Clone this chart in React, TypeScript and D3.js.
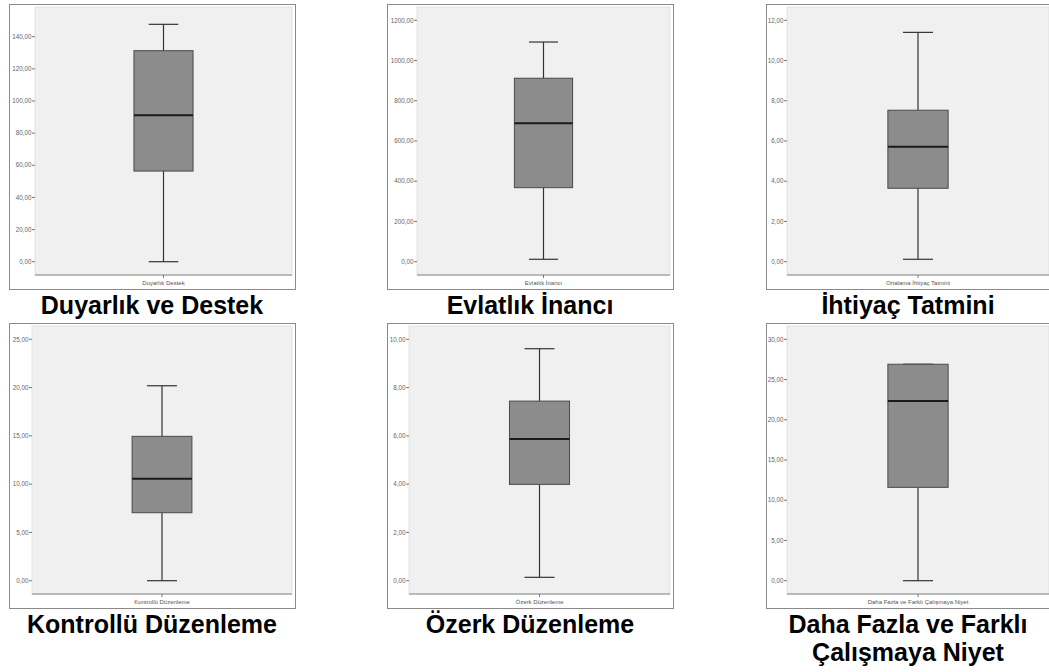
import * as d3 from "d3"

// summary stats
const titles = [
  ["Duyarlık ve Destek"],
  ["Evlatlık İnancı"],
  ["İhtiyaç Tatmini"],
  ["Kontrollü Düzenleme"],
  ["Özerk Düzenleme"],
  ["Daha Fazla ve Farklı", "Çalışmaya Niyet"],
]
const xLabels = [
  "Duyarlık Destek",
  "Evlatlık İnancı",
  "Ortalama İhtiyaç Tatmini",
  "Kontrollü Düzenleme",
  "Özerk Düzenleme",
  "Daha Fazla ve Farklı Çalışmaya Niyet",
]
const mins = [0, 12, 0.12, 0, 0.14, 0]
const q1s = [56.4, 368, 3.65, 7.04, 3.99, 11.6]
const medians = [91.1, 688, 5.72, 10.56, 5.87, 22.33]
const q3s = [131.3, 912, 7.53, 14.95, 7.44, 26.9]
const maxs = [147.7, 1092, 11.4, 20.19, 9.61, 26.9]
const axisTops = [140, 1200, 12, 25, 10, 30]
const tickValues = [
  [0, 20, 40, 60, 80, 100, 120, 140],
  [0, 200, 400, 600, 800, 1000, 1200],
  [0, 2, 4, 6, 8, 10, 12],
  [0, 5, 10, 15, 20, 25],
  [0, 2, 4, 6, 8, 10],
  [0, 5, 10, 15, 20, 25, 30],
]

// layout
const W = 1049
const H = 672
const FRAME_X = [9, 387, 766]
const FRAME_W = [286, 286, 290]
const PLOT_LEFT = [35, 417, 787, 32, 409, 787]
const PLOT_RIGHT = [292, 670, 1049]
const TITLE_X = [152, 530, 908]
const ROW_DY = 319
const ZERO_Y = 261.7
// first panel's top tick (140) sits lower than the others
const TOP_TICK_Y = [36.7, 20.3, 20.3, 20.3, 20.3, 20.3]

const fmt = d3
  .formatLocale({ decimal: ",", thousands: ".", grouping: [3], currency: ["", ""] })
  .format(".2f")

const FONT = "Liberation Sans, Arial, sans-serif"

function Panel({ i }: { i: number }) {
  const col = i % 3
  const row = Math.floor(i / 3)
  const dy = row * ROW_DY
  const frameTop = 4 + dy
  const frameBottom = 289 + dy
  const plotTop = 7 + dy
  const plotBottom = 275 + dy
  const left = PLOT_LEFT[i]
  const right = PLOT_RIGHT[col]

  const y = d3
    .scaleLinear()
    .domain([0, axisTops[i]])
    .range([ZERO_Y + dy, TOP_TICK_Y[i] + dy])

  const x = d3
    .scaleBand<string>()
    .domain([xLabels[i]])
    .range([left, right])
    .padding(0.626)

  const bx = x(xLabels[i]) ?? 0
  const bw = x.bandwidth()
  const cx = bx + bw / 2
  const capHalf = bw / 4

  return (
    <g>
      <rect
        x={FRAME_X[col] + 0.5}
        y={frameTop + 0.5}
        width={FRAME_W[col]}
        height={frameBottom - frameTop}
        fill="white"
        stroke="#8a8a8a"
        strokeWidth={1}
      />
      <rect
        x={left}
        y={plotTop}
        width={right - left}
        height={plotBottom - plotTop}
        fill="#f0f0f0"
        stroke="#dcdcdc"
        strokeWidth={0.8}
      />
      <line
        x1={left}
        x2={right}
        y1={plotBottom}
        y2={plotBottom}
        stroke="#a9a9a9"
        strokeWidth={1.5}
      />
      {tickValues[i].map((t) => (
        <g key={t}>
          <line x1={left - 3} x2={left} y1={y(t)} y2={y(t)} stroke="#555" strokeWidth={0.8} />
          <text
            x={left - 3.5}
            y={y(t)}
            dy="0.35em"
            textAnchor="end"
            fontSize={6.3}
            fill="#666"
            fontFamily={FONT}
          >
            {fmt(t)}
          </text>
        </g>
      ))}
      <line x1={cx} x2={cx} y1={plotBottom} y2={plotBottom + 3} stroke="#555" strokeWidth={0.8} />
      <text
        x={cx}
        y={plotBottom + 10}
        textAnchor="middle"
        fontSize={6}
        fill="#555"
        fontFamily={FONT}
      >
        {xLabels[i]}
      </text>

      {/* whiskers */}
      <line x1={cx} x2={cx} y1={y(q3s[i])} y2={y(maxs[i])} stroke="#333" strokeWidth={1.2} />
      <line x1={cx} x2={cx} y1={y(q1s[i])} y2={y(mins[i])} stroke="#333" strokeWidth={1.2} />
      <line
        x1={cx - capHalf}
        x2={cx + capHalf}
        y1={y(maxs[i])}
        y2={y(maxs[i])}
        stroke="#333"
        strokeWidth={1.2}
      />
      <line
        x1={cx - capHalf}
        x2={cx + capHalf}
        y1={y(mins[i])}
        y2={y(mins[i])}
        stroke="#333"
        strokeWidth={1.2}
      />
      <rect
        x={bx}
        y={y(q3s[i])}
        width={bw}
        height={y(q1s[i]) - y(q3s[i])}
        fill="#8c8c8c"
        stroke="#4a4a4a"
        strokeWidth={1}
      />
      <line
        x1={bx}
        x2={bx + bw}
        y1={y(medians[i])}
        y2={y(medians[i])}
        stroke="#1a1a1a"
        strokeWidth={2}
      />

      {titles[i].map((line, k) => (
        <text
          key={k}
          x={TITLE_X[col]}
          y={314 + dy + k * 28}
          textAnchor="middle"
          fontSize={25}
          fontWeight="bold"
          fill="#000"
          fontFamily={FONT}
        >
          {line}
        </text>
      ))}
    </g>
  )
}

export default function App() {
  return (
    <div style={{ position: "absolute", left: 0, top: 0 }}>
      <svg width={W} height={H} viewBox={`0 0 ${W} ${H}`} style={{ display: "block", background: "white" }}>
        {titles.map((_, i) => (
          <Panel key={i} i={i} />
        ))}
      </svg>
    </div>
  )
}
